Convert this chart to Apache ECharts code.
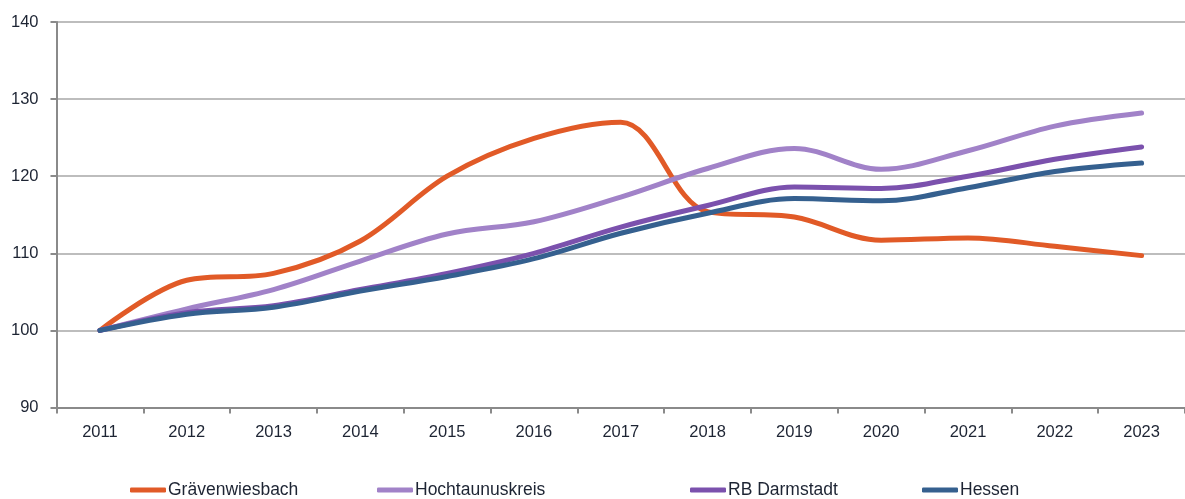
<!DOCTYPE html>
<html>
<head>
<meta charset="utf-8">
<title>Bevölkerungsentwicklung 2011–2023 (Index 2011 = 100)</title>
<script src="https://cdn.jsdelivr.net/npm/echarts@6/dist/echarts.min.js"></script>
<style>
  html, body { margin: 0; padding: 0; background: #fff; }
  #chart { width: 1185px; height: 499px; }
</style>
</head>
<body>
<div id="chart"></div>
<script>
// Jahre (Kategorien der x-Achse)
const years = ['2011','2012','2013','2014','2015','2016','2017','2018','2019','2020','2021','2022','2023'];

// Indexwerte, 2011 = 100
const graevenwiesbach = [100, 106.5, 107.4, 111.6, 120.0, 124.9, 127.0, 115.4, 114.7, 111.7, 112.0, 110.9, 109.7];
const hochtaunuskreis = [100, 102.8, 105.3, 109.0, 112.5, 114.1, 117.3, 121.0, 123.6, 120.9, 123.3, 126.5, 128.2];
const rbDarmstadt     = [100, 102.3, 103.2, 105.3, 107.4, 110.0, 113.4, 116.2, 118.6, 118.4, 120.0, 122.2, 123.8];
const hessen          = [100, 102.1, 103.0, 105.1, 107.0, 109.3, 112.6, 115.2, 117.1, 116.8, 118.5, 120.6, 121.7];

// Achsenbereich der y-Achse
const yMin = 90, yMax = 140, yStep = 10;

const names  = ['Grävenwiesbach', 'Hochtaunuskreis', 'RB Darmstadt', 'Hessen'];
const colors = ['#E15A27', '#A182C8', '#7B51AD', '#35608F'];
const values = [graevenwiesbach, hochtaunuskreis, rbDarmstadt, hessen];

const FONT = "'Liberation Sans', Arial, sans-serif";
const TEXT = '#1d2433';

const legendLeft = [130, 377, 690, 922];

const chart = echarts.init(document.getElementById('chart'), null, { renderer: 'canvas' });

chart.setOption({
  animation: false,
  backgroundColor: '#ffffff',
  grid: { left: 56.5, right: -10, top: 22, bottom: 91.5, containLabel: false },
  legend: names.map((n, i) => ({
    data: [n],
    left: legendLeft[i],
    top: 481,
    padding: 0,
    itemWidth: 36,
    itemHeight: 5,
    icon: 'roundRect',
    textStyle: { fontFamily: FONT, fontSize: 17.5, color: TEXT, padding: [0, 0, 0, -3] }
  })),
  xAxis: {
    type: 'category',
    data: years,
    boundaryGap: true,
    axisLine: { show: true, lineStyle: { color: '#8a8a8a', width: 2 } },
    axisTick: { show: true, length: 6, alignWithLabel: false, lineStyle: { color: '#8a8a8a', width: 2 } },
    axisLabel: { fontFamily: FONT, fontSize: 16.5, color: TEXT, margin: 16 },
    splitLine: { show: false }
  },
  yAxis: {
    type: 'value',
    min: yMin,
    max: yMax,
    interval: yStep,
    axisLine: { show: true, lineStyle: { color: '#8a8a8a', width: 2 } },
    axisTick: { show: true, length: 6, lineStyle: { color: '#8a8a8a', width: 2 } },
    axisLabel: { fontFamily: FONT, fontSize: 16.5, color: TEXT, margin: 18 },
    splitLine: { show: true, lineStyle: { color: '#bdbdbd', width: 2 } }
  },
  series: names.map((n, i) => ({
    name: n,
    type: 'line',
    data: values[i],
    smooth: 0.35,
    symbol: 'none',
    color: colors[i],
    lineStyle: { color: colors[i], width: 5, cap: 'round', join: 'round' },
    z: 2 + i
  }))
});
</script>
</body>
</html>
